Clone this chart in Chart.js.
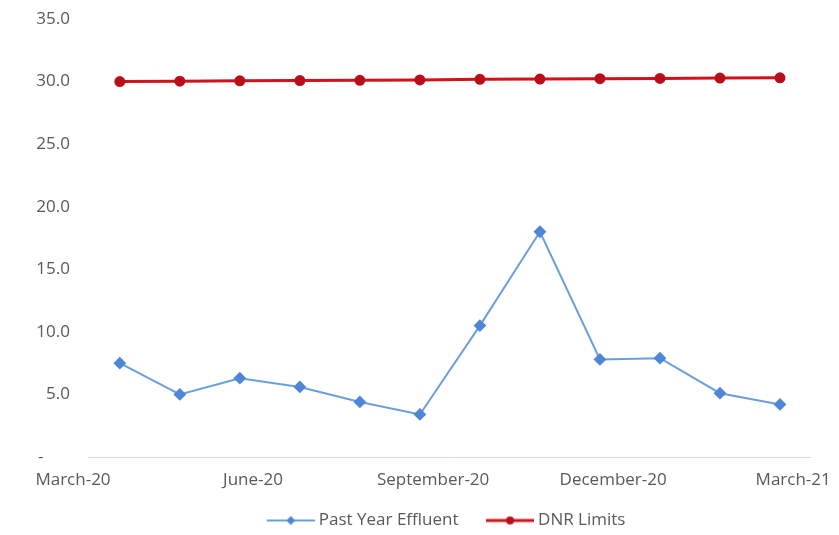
<!DOCTYPE html>
<html>
<head>
<meta charset="utf-8">
<script src="https://cdn.jsdelivr.net/npm/chart.js@4.4.1/dist/chart.umd.min.js"></script>
<style>
    html, body { margin: 0; padding: 0; background: #ffffff; }
    #wrap { width: 839px; height: 535px; }
</style>
</head>
<body>
<div id="wrap"><canvas id="effluentChart"></canvas></div>
<script>
// Monthly readings, March 2020 through February 2021
const months = ['March-20', 'April-20', 'May-20', 'June-20', 'July-20', 'August-20',
    'September-20', 'October-20', 'November-20', 'December-20', 'January-21', 'February-21'];
const pastYearEffluent = [7.5, 5.0, 6.3, 5.6, 4.4, 3.4, 10.5, 18.0, 7.8, 7.9, 5.1, 4.2];
const dnrLimits = [30.0, 30.03, 30.06, 30.08, 30.1, 30.13, 30.18, 30.2, 30.23, 30.25, 30.28, 30.3];

// x-axis labels, by month index (0 = March-20)
const tickMonths = [0, 3, 6, 9, 12];
const tickLabels = ['March-20', 'June-20', 'September-20', 'December-20', 'March-21'];

const labelShift = -0.78;   // labels sit a bit before their month, as in the original
const textColor = '#595959';
const font = { family: 'Open Sans', size: 17 };

// legend sample: short line with the marker in the middle, drawn at the right of a 60px canvas
function legendSwatch(lineColor, markerColor, marker, lineWidth) {
    const c = document.createElement('canvas');
    c.width = 60;
    c.height = 12;
    const ctx = c.getContext('2d');
    ctx.strokeStyle = lineColor;
    ctx.lineWidth = lineWidth;
    ctx.beginPath();
    ctx.moveTo(12, 6);
    ctx.lineTo(60, 6);
    ctx.stroke();
    ctx.fillStyle = markerColor;
    ctx.beginPath();
    if (marker === 'circle') {
        ctx.arc(36, 6, 4, 0, Math.PI * 2);
    } else {
        ctx.moveTo(36, 1.5);
        ctx.lineTo(40.5, 6);
        ctx.lineTo(36, 10.5);
        ctx.lineTo(31.5, 6);
        ctx.closePath();
    }
    ctx.fill();
    return c;
}

document.addEventListener('DOMContentLoaded', function() {
    const swatches = [
        legendSwatch('#6a9fdc', '#4f86d6', 'rectRot', 2),
        legendSwatch('#d0121b', '#b80f1a', 'circle', 3)
    ];

    const ctx = document.getElementById('effluentChart').getContext('2d');
    new Chart(ctx, {
        type: 'line',
        data: {
            datasets: [{
                label: 'Past Year Effluent',
                data: pastYearEffluent.map((v, i) => ({ x: i, y: v, month: months[i] })),
                borderColor: '#6a9fdc',
                backgroundColor: '#4f86d6',
                pointBackgroundColor: '#4f86d6',
                pointBorderColor: '#4f86d6',
                pointStyle: 'rectRot',
                pointRadius: 5,
                borderWidth: 2,
                tension: 0
            }, {
                label: 'DNR Limits',
                data: dnrLimits.map((v, i) => ({ x: i, y: v, month: months[i] })),
                borderColor: '#d0121b',
                backgroundColor: '#b80f1a',
                pointBackgroundColor: '#b80f1a',
                pointBorderColor: '#b80f1a',
                pointStyle: 'circle',
                pointRadius: 4,
                borderWidth: 3,
                tension: 0
            }]
        },
        options: {
            responsive: true,
            maintainAspectRatio: false,
            animation: false,
            layout: {
                padding: { top: 19, right: 29, bottom: -4, left: 0 }
            },
            scales: {
                x: {
                    type: 'linear',
                    min: -0.53,
                    max: 11.5,
                    grid: { display: false, drawTicks: false },
                    border: { display: true, color: '#d9d9d9', width: 1 },
                    afterBuildTicks: function(scale) {
                        scale.ticks = tickMonths.map(m => ({ value: m + labelShift }));
                    },
                    afterFit: function(scale) {
                        scale.height = 35;
                        // end labels may run past the plot edges
                        scale.paddingLeft = 0;
                        scale.paddingRight = 0;
                    },
                    ticks: {
                        autoSkip: false,
                        maxRotation: 0,
                        padding: 13,
                        color: textColor,
                        font: font,
                        callback: function(value, index) {
                            return tickLabels[index];
                        }
                    }
                },
                y: {
                    min: 0,
                    max: 35,
                    grid: { display: false, drawTicks: false },
                    border: { display: false },
                    afterFit: function(scale) {
                        scale.width = 88;
                        // the label gap should not push the plot down
                        scale.paddingTop = 10;
                        scale.paddingBottom = 10;
                    },
                    ticks: {
                        stepSize: 5,
                        padding: 18,
                        color: textColor,
                        font: font,
                        callback: function(value) {
                            return value === 0 ? '-      ' : value.toFixed(1);
                        }
                    }
                }
            },
            plugins: {
                legend: {
                    position: 'bottom',
                    fullSize: false,
                    labels: {
                        usePointStyle: true,
                        pointStyleWidth: 51,
                        padding: 20,
                        color: textColor,
                        font: font,
                        generateLabels: function(chart) {
                            const items = Chart.defaults.plugins.legend.labels.generateLabels(chart);
                            items.forEach((item, i) => { item.pointStyle = swatches[i]; });
                            items[items.length - 1].text += '   ';
                            return items;
                        }
                    }
                },
                tooltip: { enabled: false }
            }
        }
    });
});
</script>
</body>
</html>
